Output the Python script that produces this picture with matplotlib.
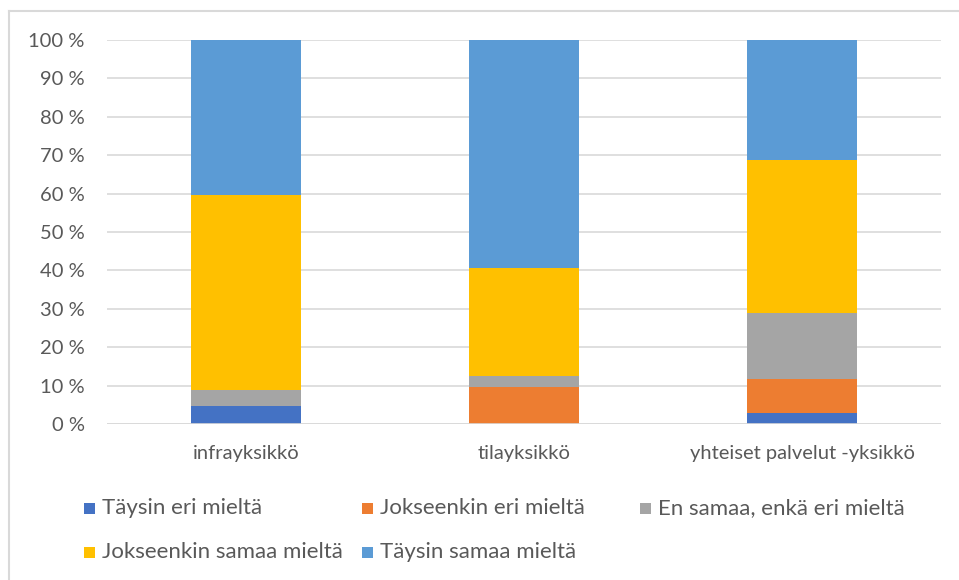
import matplotlib
matplotlib.use("Agg")
import matplotlib.pyplot as plt
from matplotlib.patches import Rectangle
from matplotlib.lines import Line2D
import numpy as np

plt.rcParams['font.family'] = ['Lato', 'DejaVu Sans']

categories = ["infrayksikkö", "tilayksikkö", "yhteiset palvelut -yksikkö"]
series_names = ["Täysin eri mieltä", "Jokseenkin eri mieltä", "En samaa, enkä eri mieltä",
                "Jokseenkin samaa mieltä", "Täysin samaa mieltä"]
taysin_eri = [4.8, 0.0, 2.9]
jokseenkin_eri = [0.0, 9.7, 8.8]
en_samaa = [4.1, 2.9, 17.1]
jokseenkin_samaa = [50.7, 28.0, 40.0]
taysin_samaa = [40.4, 59.4, 31.2]
y_ticks = [0, 10, 20, 30, 40, 50, 60, 70, 80, 90, 100]
y_tick_labels = [f"{t} %" for t in y_ticks]

colors = ["#4472C4", "#ED7D31", "#A5A5A5", "#FFC000", "#5B9BD5"]
values = [taysin_eri, jokseenkin_eri, en_samaa, jokseenkin_samaa, taysin_samaa]

W, H = 959, 580
fig = plt.figure(figsize=(W / 100, H / 100), dpi=100)
ax = fig.add_axes([107 / W, 1 - 424 / H, (941 - 107) / W, (424 - 40) / H])

x = np.arange(len(categories))
bottom = np.zeros(len(categories))
for vals, col in zip(values, colors):
    ax.bar(x, vals, bottom=bottom, width=0.395, color=col, zorder=3)
    bottom += np.array(vals)

ax.set_xlim(-0.5, 2.5)
ax.set_ylim(0, 100)
ax.set_yticks(y_ticks)
ax.set_yticklabels(y_tick_labels)
ax.set_xticks(x)
ax.set_xticklabels(categories)
ax.grid(axis='y', color='#D9D9D9', linewidth=1.2, zorder=0)
for s in ax.spines.values():
    s.set_visible(False)
ax.axhline(0, color='#D9D9D9', linewidth=1.2, zorder=4)
ax.tick_params(axis='both', length=0, labelsize=14.5, colors='#595959')
ax.tick_params(axis='y', pad=16)
ax.tick_params(axis='x', pad=15)

# legend (manual, Excel-like grid)
col_x = [84, 362, 640]
row_y = [508, 552]
for i, name in enumerate(series_names):
    xpx = col_x[i % 3]
    ypx = row_y[i // 3]
    fig.add_artist(Rectangle((xpx / W, 1 - (ypx + 6) / H), 11 / W, 11 / H,
                             transform=fig.transFigure, color=colors[i], lw=0))
    fig.text((xpx + 18) / W, 1 - ypx / H, name, fontsize=16,
             color='#595959', va='center', ha='left')

# outer frame lines
fig.add_artist(Line2D([9 / W, 9 / W], [0, 1 - 11 / H], transform=fig.transFigure,
                      color='#D9D9D9', lw=1.5))
fig.add_artist(Line2D([9 / W, 1], [1 - 11 / H, 1 - 11 / H], transform=fig.transFigure,
                      color='#D9D9D9', lw=1.5))

fig.savefig("out.png", dpi=100)
